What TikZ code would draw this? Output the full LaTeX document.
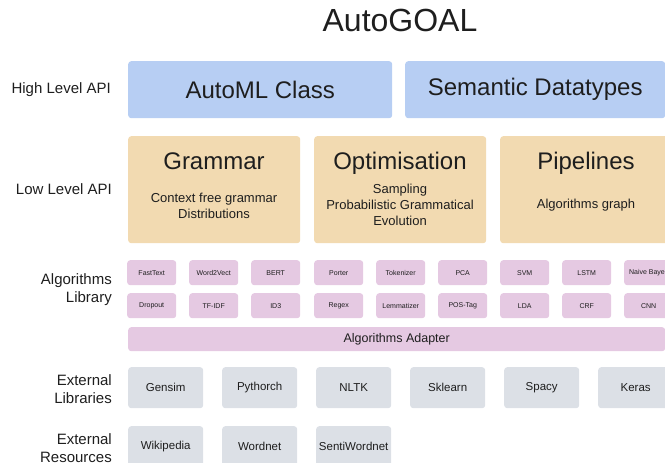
\documentclass[tikz,border=0pt]{standalone}
\usepackage{fontspec}
\setmainfont{Liberation Sans}
\usepackage{xcolor}
\usetikzlibrary{positioning}
\definecolor{apiblue}{HTML}{B7CEF3}
\definecolor{lowtan}{HTML}{F2DAB1}
\definecolor{algpink}{HTML}{E5C9E2}
\definecolor{extgrey}{HTML}{DCE0E6}
\definecolor{inkgrey}{HTML}{1E1E1E}

\begin{document}
\begin{tikzpicture}[x=1pt,y=-1pt,
  box/.style={rounded corners=3pt,inner sep=0pt,anchor=north west,text=inkgrey},
  highbox/.style={box,fill=apiblue,minimum height=57pt,font=\fontsize{24}{28}\selectfont},
  lowbox/.style={box,fill=lowtan,minimum width=172pt,minimum height=107pt},
  lowtitle/.style={anchor=base,inner sep=0pt,text=inkgrey,font=\fontsize{24}{28}\selectfont},
  lowtext/.style={align=center,inner sep=0pt,text=inkgrey,font=\fontsize{13}{16}\selectfont},
  algbox/.style={box,fill=algpink,minimum width=49pt,minimum height=25pt,font=\fontsize{7}{8}\selectfont},
  extbox/.style={box,fill=extgrey,minimum width=75pt,minimum height=41pt,font=\fontsize{11.5}{13}\selectfont},
  rowlabel/.style={anchor=east,align=right,inner sep=0pt,text=inkgrey,font=\fontsize{15}{18}\selectfont}]
\useasboundingbox (0,0) rectangle (665,463);
\clip (0,0) rectangle (665,463);
% title
\node[anchor=base,inner sep=0pt,text=inkgrey,font=\fontsize{32}{36}\selectfont] (title) at (400,31) {AutoGOAL};
% row labels
\node[rowlabel] (highlabel) at (111,89.5) {High Level API};
\node[rowlabel] (lowlabel) at (112,189) {Low Level API};
\node[rowlabel] (alglabel) at (112,290) {Algorithms\\Library};
\node[rowlabel] (extliblabel) at (112,389) {External\\Libraries};
\node[rowlabel] (extreslabel) at (112,448) {External\\Resources};
% high level api
\node[highbox,minimum width=264pt] (automl) at (128,61) {AutoML Class};
\node[highbox,minimum width=260pt] (semantic) at (405,61) {Semantic Datatypes};
% low level api
\node[lowbox] (grammar) at (128,136) {};
\node[lowbox] (optim) at (314,136) {};
\node[lowbox] (pipelines) at (500,136) {};
\node[lowtitle] (grammartitle) at (214,169) {Grammar};
\node[lowtitle] (optimtitle) at (400,169) {Optimisation};
\node[lowtitle] (pipelinestitle) at (586,169) {Pipelines};
\node[lowtext] (grammartext) at (214,206) {Context free grammar\\Distributions};
\node[lowtext] (optimtext) at (400,205) {Sampling\\Probabilistic Grammatical\\Evolution};
\node[lowtext] (pipelinestext) at (586,205) {Algorithms graph};
% algorithms library
\node[algbox] (fasttext) at (127,260) {FastText};
\node[algbox] (wordvect) at (189,260) {Word2Vect};
\node[algbox] (bert) at (251,260) {BERT};
\node[algbox] (porter) at (314,260) {Porter};
\node[algbox] (tokenizer) at (376,260) {Tokenizer};
\node[algbox] (pca) at (438,260) {PCA};
\node[algbox] (svm) at (500,260) {SVM};
\node[algbox] (lstm) at (562,260) {LSTM};
\node[algbox] (naivebayes) at (624,260) {Naive Bayes};
\node[algbox] (dropout) at (127,293) {Dropout};
\node[algbox] (tfidf) at (189,293) {TF-IDF};
\node[algbox] (idthree) at (251,293) {ID3};
\node[algbox] (regex) at (314,293) {Regex};
\node[algbox] (lemmatizer) at (376,293) {Lemmatizer};
\node[algbox] (postag) at (438,293) {POS-Tag};
\node[algbox] (lda) at (500,293) {LDA};
\node[algbox] (crf) at (562,293) {CRF};
\node[algbox] (cnn) at (624,293) {CNN};
\node[box,fill=algpink,minimum width=537pt,minimum height=24pt,font=\fontsize{12.5}{14}\selectfont] (adapter) at (128,327) {Algorithms Adapter};
% external libraries
\node[extbox] (gensim) at (128,367) {Gensim};
\node[extbox] (pythorch) at (222,367) {Pythorch};
\node[extbox] (nltk) at (316,367) {NLTK};
\node[extbox] (sklearn) at (410,367) {Sklearn};
\node[extbox] (spacy) at (504,367) {Spacy};
\node[extbox] (keras) at (598,367) {Keras};
% external resources
\node[extbox] (wikipedia) at (128,426) {Wikipedia};
\node[extbox] (wordnet) at (222,426) {Wordnet};
\node[extbox] (sentiwordnet) at (316,426) {SentiWordnet};
\end{tikzpicture}
\end{document}
